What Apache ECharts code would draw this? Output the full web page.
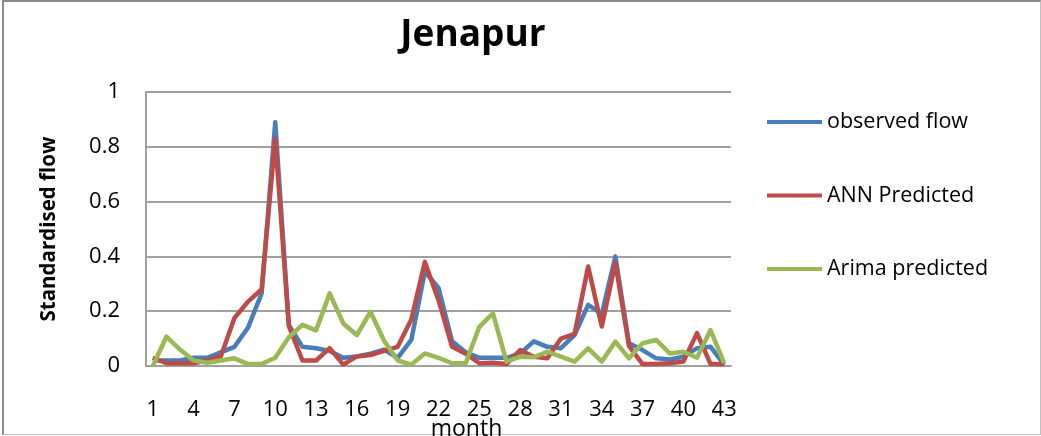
<!DOCTYPE html>
<html>
<head>
<meta charset="utf-8">
<style>
  html, body { margin: 0; padding: 0; background: #fff; overflow: hidden; }
  #frame {
    position: absolute; left: 2px; top: 0px; width: 1036px; height: 432px;
    border-left: 2px solid #8c8c8c; border-top: 2px solid #8c8c8c;
    border-right: 1px solid #c0c0c0; border-bottom: 1px solid #c0c0c0;
  }
  #chart { position: absolute; left: 0; top: 0; width: 1041px; height: 436px; }
</style>
<script src="https://cdn.jsdelivr.net/npm/echarts@6/dist/echarts.min.js"></script>
</head>
<body>
<div id="frame"></div>
<div id="chart"></div>
<script>
// Monthly standardised flow at Jenapur: observations vs. two forecasting models
const months = Array.from({ length: 43 }, (_, i) => String(i + 1));

const observedFlow = [
  0.02, 0.02, 0.02, 0.03, 0.03, 0.05, 0.07, 0.14, 0.265, 0.89,
  0.15, 0.07, 0.065, 0.055, 0.03, 0.035, 0.045, 0.06, 0.03, 0.095,
  0.345, 0.285, 0.09, 0.05, 0.03, 0.03, 0.03, 0.045, 0.09, 0.07,
  0.065, 0.113, 0.223, 0.19, 0.40, 0.083, 0.058, 0.028, 0.024, 0.034,
  0.065, 0.07, 0.005
];

const annPredicted = [
  0.03, 0.01, 0.01, 0.01, 0.02, 0.035, 0.175, 0.235, 0.28, 0.83,
  0.145, 0.02, 0.02, 0.065, 0.005, 0.035, 0.04, 0.055, 0.07, 0.17,
  0.38, 0.24, 0.07, 0.045, 0.01, 0.012, 0.007, 0.058, 0.034, 0.028,
  0.10, 0.117, 0.363, 0.144, 0.377, 0.073, 0.007, 0.007, 0.01, 0.016,
  0.12, 0.007, 0.007
];

const arimaPredicted = [
  0.0, 0.107, 0.06, 0.02, 0.012, 0.02, 0.028, 0.007, 0.007, 0.03,
  0.105, 0.15, 0.13, 0.265, 0.155, 0.113, 0.198, 0.092, 0.02, 0.005,
  0.046, 0.03, 0.01, 0.01, 0.143, 0.192, 0.016, 0.034, 0.032, 0.052,
  0.034, 0.016, 0.064, 0.016, 0.089, 0.028, 0.083, 0.095, 0.046, 0.052,
  0.03, 0.131, 0.01
];

const yTicks = [0, 0.2, 0.4, 0.6, 0.8, 1];

const FONT = '"Open Sans", "Noto Sans", sans-serif';
const chart = echarts.init(document.getElementById('chart'), null, { renderer: 'canvas' });

const lineSeries = (name, data, color) => ({
  name, type: 'line', data,
  symbol: 'none',
  lineStyle: { width: 4.5, color, join: 'round' },
  itemStyle: { color },
  animation: false
});

chart.setOption({
  backgroundColor: 'transparent',
  title: {
    text: 'Jenapur',
    left: 468, top: 12, textAlign: 'center',
    textStyle: { fontFamily: FONT, fontSize: 37, fontWeight: 'bold', color: '#000' }
  },
  legend: {
    orient: 'vertical',
    left: 767, top: 111, padding: 0,
    itemWidth: 55, itemHeight: 4, itemGap: 51.5,
    icon: 'rect',
    textStyle: { fontFamily: FONT, fontSize: 21.5, lineHeight: 22, color: '#000' },
    data: ['observed flow', 'ANN Predicted', 'Arima predicted']
  },
  grid: { left: 146, right: 310, top: 92, bottom: 70, containLabel: false, outerBoundsMode: 'none' },
  xAxis: {
    type: 'category',
    data: months,
    boundaryGap: true,
    name: 'month',
    nameLocation: 'middle',
    nameGap: 52,
    nameMoveOverlap: false,
    // the axis title sits a little right of the plot's centre, under the chart title
    nameTextStyle: { fontFamily: FONT, fontSize: 23, color: '#000', padding: [0, 0, 0, 56] },
    axisLine: { lineStyle: { color: '#a0a0a0', width: 2 } },
    axisTick: { show: false },
    axisLabel: { interval: 2, margin: 33, fontFamily: FONT, fontSize: 22, color: '#000' },
    splitLine: { show: false }
  },
  yAxis: {
    type: 'value',
    min: yTicks[0], max: yTicks[yTicks.length - 1], interval: 0.2,
    name: 'Standardised flow',
    nameLocation: 'middle',
    nameGap: 86,
    nameMoveOverlap: false,
    nameTextStyle: { fontFamily: FONT, fontSize: 20.5, fontWeight: 'bold', color: '#000' },
    axisLine: { show: true, lineStyle: { color: '#a0a0a0', width: 2 } },
    axisTick: { show: false },
    axisLabel: { margin: 26, fontFamily: FONT, fontSize: 22, color: '#000',
      formatter: v => String(Math.round(v * 10) / 10) },
    splitLine: { lineStyle: { color: '#a0a0a0', width: 2 } }
  },
  series: [
    lineSeries('observed flow', observedFlow, '#4A7EBB'),
    lineSeries('ANN Predicted', annPredicted, '#BE4B48'),
    lineSeries('Arima predicted', arimaPredicted, '#98B954')
  ]
});
</script>
</body>
</html>
